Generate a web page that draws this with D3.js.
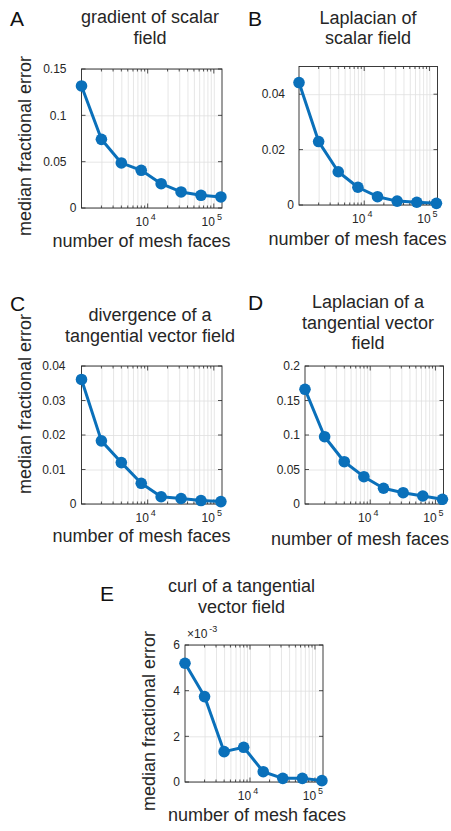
<!DOCTYPE html>
<html>
<head>
<meta charset="utf-8">
<script src="https://cdn.jsdelivr.net/npm/d3@7"></script>
<style>
  body { margin: 0; background: #fff; }
  svg { display: block; }
  text { font-family: "Liberation Sans", Arial, Helvetica, sans-serif; }
</style>
</head>
<body>
<svg id="fig" width="451" height="831"></svg>
<script>
// Mesh resolutions (number of faces) shared by every panel
const meshFaces = [1000, 2000, 4000, 8000, 16000, 32000, 64000, 128000];
const xDomain = [1000, 133000];
const xMajorTicks = [1e4, 1e5];
const xMajorExponents = ["4", "5"];

// Median fractional error for each operator
const gradScalarErr = [0.1317, 0.0741, 0.0486, 0.0407, 0.0262, 0.0173, 0.0137, 0.0119];
const lapScalarErr  = [0.0442, 0.0229, 0.0120, 0.0064, 0.0030, 0.0014, 0.0010, 0.0006];
const divVecErr     = [0.0361, 0.0183, 0.0120, 0.0060, 0.0021, 0.0016, 0.0010, 0.0007];
const lapVecErr     = [0.1662, 0.0975, 0.0613, 0.0396, 0.0228, 0.0164, 0.0116, 0.0068];
const curlVecErr    = [0.00520, 0.00374, 0.00133, 0.00152, 0.00045, 0.00016, 0.00016, 0.00006];

// Y tick values and their printed labels
const yTicksA = [0, 0.05, 0.1, 0.15];          const yLabelsA = ["0", "0.05", "0.1", "0.15"];
const yTicksB = [0, 0.02, 0.04];               const yLabelsB = ["0", "0.02", "0.04"];
const yTicksC = [0, 0.01, 0.02, 0.03, 0.04];   const yLabelsC = ["0", "0.01", "0.02", "0.03", "0.04"];
const yTicksD = [0, 0.05, 0.1, 0.15, 0.2];     const yLabelsD = ["0", "0.05", "0.1", "0.15", "0.2"];
const yTicksE = [0, 0.002, 0.004, 0.006];      const yLabelsE = ["0", "2", "4", "6"];

// Titles
const titleA = ["gradient of scalar", "field"];
const titleB = ["Laplacian of", "scalar field"];
const titleC = ["divergence of a", "tangential vector field"];
const titleD = ["Laplacian of a", "tangential vector", "field"];
const titleE = ["curl of a tangential", "vector field"];

const xAxisLabel = "number of mesh faces";
const yAxisLabel = "median fractional error";

const panels = [
  { letter: "A", title: titleA, values: gradScalarErr, yMax: 0.15, yTicks: yTicksA, yLabels: yLabelsA },
  { letter: "B", title: titleB, values: lapScalarErr,  yMax: 0.05, yTicks: yTicksB, yLabels: yLabelsB },
  { letter: "C", title: titleC, values: divVecErr,     yMax: 0.04, yTicks: yTicksC, yLabels: yLabelsC },
  { letter: "D", title: titleD, values: lapVecErr,     yMax: 0.2,  yTicks: yTicksD, yLabels: yLabelsD },
  { letter: "E", title: titleE, values: curlVecErr,    yMax: 0.006, yTicks: yTicksE, yLabels: yLabelsE, exponent: "-3" }
];

// Page layout of each panel
const layout = {
  A: { box: [81.5, 222, 69, 208],    letter: [10, 26],  titleX: 150,   titleY: 23,   xLab: [141.5, 247], yLab: [31, 146],  tickGap: 15 },
  B: { box: [299, 437.5, 66.5, 205], letter: [248, 26], titleX: 368,   titleY: 23.5, xLab: [357.5, 245], yLab: null,       tickGap: 14 },
  C: { box: [81.5, 222, 366, 504],   letter: [10, 311], titleX: 150,   titleY: 321,  xLab: [141.5, 542], yLab: [31, 404],  tickGap: 16 },
  D: { box: [305, 443.5, 366, 504],  letter: [248, 310], titleX: 368,  titleY: 308,  xLab: [360, 545],   yLab: null,       tickGap: 5 },
  E: { box: [185, 323, 645, 782],    letter: [100, 601], titleX: 241.5, titleY: 592, xLab: [257, 821],   yLab: [155, 721], tickGap: 5 }
};

const lineColor = "#0a70ba";
const axisColor = "#262626";
const gridColor = "#e0e0e0";

const svg = d3.select("#fig");
svg.append("rect").attr("width", 451).attr("height", 831).attr("fill", "#fff");

// minor + major log grid positions inside the x domain
const logGrid = [];
for (let e = 3; e <= 5; e++) {
  for (let m = 1; m <= 9; m++) {
    const v = m * Math.pow(10, e);
    if (v > xDomain[0] && v < xDomain[1]) logGrid.push(v);
  }
}

panels.forEach(p => {
  const L = layout[p.letter];
  const [x0, x1, y0, y1] = L.box;
  const x = d3.scaleLog().domain(xDomain).range([x0, x1]);
  const y = d3.scaleLinear().domain([0, p.yMax]).range([y1, y0]);
  const g = svg.append("g");

  // grid
  g.append("g").attr("transform", `translate(0,${y1})`)
    .call(d3.axisBottom(x).tickValues(logGrid).tickSize(-(y1 - y0)).tickFormat(""))
    .call(s => s.select(".domain").remove())
    .call(s => s.selectAll("line").attr("stroke", gridColor).attr("stroke-width", 0.8));
  g.append("g").attr("transform", `translate(${x0},0)`)
    .call(d3.axisLeft(y).tickValues(p.yTicks).tickSize(-(x1 - x0)).tickFormat(""))
    .call(s => s.select(".domain").remove())
    .call(s => s.selectAll("line").attr("stroke", gridColor).attr("stroke-width", 0.8));

  // inward ticks on all four sides
  const tickLen = v => xMajorTicks.includes(v) ? 4.5 : 2.5;
  const xt = g.append("g");
  logGrid.forEach(v => {
    xt.append("line").attr("x1", x(v)).attr("x2", x(v)).attr("y1", y1).attr("y2", y1 - tickLen(v));
    xt.append("line").attr("x1", x(v)).attr("x2", x(v)).attr("y1", y0).attr("y2", y0 + tickLen(v));
  });
  p.yTicks.forEach(v => {
    xt.append("line").attr("x1", x0).attr("x2", x0 + 4).attr("y1", y(v)).attr("y2", y(v));
    xt.append("line").attr("x1", x1).attr("x2", x1 - 4).attr("y1", y(v)).attr("y2", y(v));
  });
  xt.selectAll("line").attr("stroke", axisColor).attr("stroke-width", 0.8);

  // axes box
  g.append("rect").attr("x", x0).attr("y", y0).attr("width", x1 - x0).attr("height", y1 - y0)
    .attr("fill", "none").attr("stroke", axisColor).attr("stroke-width", 0.9);

  // y tick labels
  p.yTicks.forEach((v, i) => {
    const lab = p.yLabels[i];
    g.append("text")
      .attr("x", x0 - (lab === "0" ? 5 : L.tickGap))
      .attr("y", y(v)).attr("dy", "0.35em")
      .attr("text-anchor", "end").attr("font-size", 12).attr("fill", axisColor)
      .text(lab);
  });

  // x tick labels 10^n
  xMajorTicks.forEach((v, i) => {
    const t = g.append("text").attr("x", x(v) - 2).attr("y", y1 + 18)
      .attr("text-anchor", "middle").attr("font-size", 12).attr("fill", axisColor);
    t.append("tspan").text("10");
    t.append("tspan").attr("dx", 2).attr("dy", -6).attr("font-size", 9).text(xMajorExponents[i]);
  });

  // exponent multiplier
  if (p.exponent) {
    const t = g.append("text").attr("x", x0 + 2).attr("y", y0 - 7)
      .attr("font-size", 12).attr("fill", axisColor);
    t.append("tspan").text("\u00d710");
    t.append("tspan").attr("dx", 2).attr("dy", -6).attr("font-size", 9).text(p.exponent);
  }

  // series
  const pts = meshFaces.map((f, i) => [x(f), y(p.values[i])]);
  g.append("path").attr("d", d3.line()(pts))
    .attr("fill", "none").attr("stroke", lineColor).attr("stroke-width", 3)
    .attr("stroke-linejoin", "round");
  g.selectAll("circle.pt").data(pts).join("circle")
    .attr("cx", d => d[0]).attr("cy", d => d[1]).attr("r", 5.8).attr("fill", lineColor);

  // title
  p.title.forEach((line, i) => {
    g.append("text").attr("x", L.titleX).attr("y", L.titleY + i * 20.5)
      .attr("text-anchor", "middle").attr("font-size", 18).attr("fill", axisColor).text(line);
  });

  // axis labels
  g.append("text").attr("x", L.xLab[0]).attr("y", L.xLab[1])
    .attr("text-anchor", "middle").attr("font-size", 18).attr("fill", axisColor).text(xAxisLabel);
  if (L.yLab) {
    g.append("text").attr("transform", `translate(${L.yLab[0]},${L.yLab[1]}) rotate(-90)`)
      .attr("text-anchor", "middle").attr("font-size", 18).attr("fill", axisColor).text(yAxisLabel);
  }

  // panel letter
  g.append("text").attr("x", L.letter[0]).attr("y", L.letter[1])
    .attr("font-size", 21).attr("fill", "#111").text(p.letter);
});
</script>
</body>
</html>
